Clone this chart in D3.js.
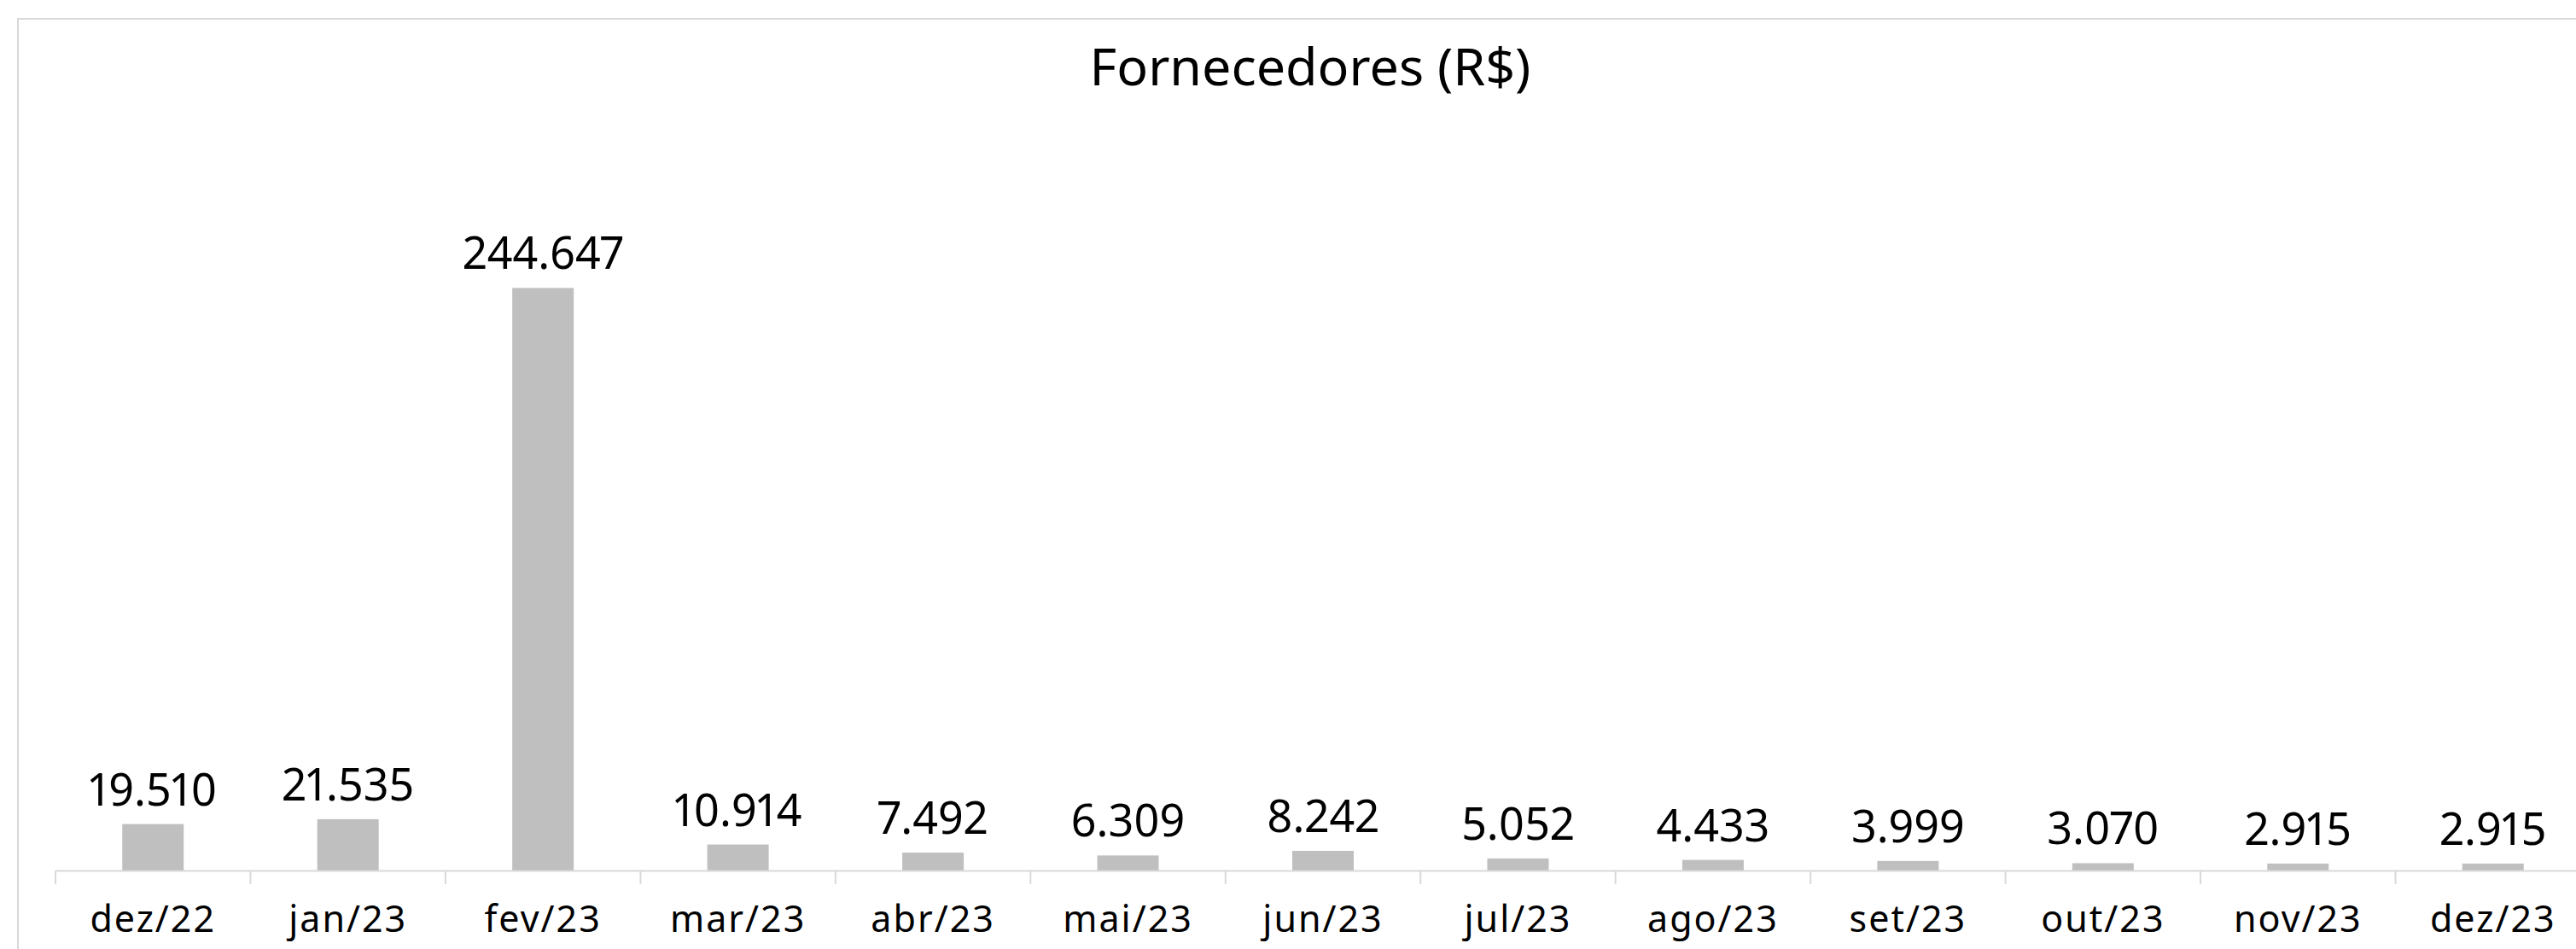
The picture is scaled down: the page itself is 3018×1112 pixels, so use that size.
<!DOCTYPE html>
<html>
<head>
<meta charset="utf-8">
<script src="https://cdnjs.cloudflare.com/ajax/libs/d3/7.8.5/d3.min.js"></script>
<style>
    html, body { margin: 0; padding: 0; background: #fff; overflow: hidden; }
    text { font-family: 'Noto Sans', sans-serif; fill: #000; }
</style>
</head>
<body>
<div class="chart"></div>
<script>
const months = ['dez/22','jan/23','fev/23','mar/23','abr/23','mai/23','jun/23','jul/23','ago/23','set/23','out/23','nov/23','dez/23'];
const fornecedores = [19510, 21535, 244647, 10914, 7492, 6309, 8242, 5052, 4433, 3999, 3070, 2915, 2915];
const yDomain = [0, 300000];
const title = 'Fornecedores (R$)';

// brazilian number format: 244.647
const ptBR = d3.formatLocale({decimal: ',', thousands: '.', grouping: [3], currency: ['R$ ', '']});
const fmt = ptBR.format(',d');

const width = 3018;
const height = 1112;
const plot = {left: 65, right: 3035, top: 183, bottom: 1020};

var svg = d3.select('.chart').append('svg')
        .attr('width', width)
        .attr('height', height)

//chart frame, runs off the right and bottom edge like in the original
svg.append('rect')
        .attr('x', 21)
        .attr('y', 22)
        .attr('width', 3060)
        .attr('height', 1200)
        .style('fill', 'none')
        .style('stroke', '#d9d9d9')
        .style('stroke-width', 2)

svg.append('text')
        .attr('x', 1535)
        .attr('y', 100)
        .attr('text-anchor', 'middle')
        .style('font-size', '61px')
        .text(title)

var xScale = d3.scaleBand()
        .domain(months)
        .range([plot.left, plot.right])
        .paddingInner(0.685)
        .paddingOuter(0.3425)

var yScale = d3.scaleLinear()
        .domain(yDomain)
        .range([plot.bottom, plot.top])

//bars
svg.selectAll('rect.bar')
        .data(fornecedores)
    .enter().append('rect')
        .attr('class', 'bar')
        .attr('x', function(d, i){ return xScale(months[i]) })
        .attr('width', xScale.bandwidth())
        .attr('y', function(d){ return yScale(d) })
        .attr('height', function(d){ return yScale(0) - yScale(d) })
        .style('fill', '#bfbfbf')

//value labels
svg.selectAll('text.value')
        .data(fornecedores)
    .enter().append('text')
        .attr('class', 'value')
        .attr('x', function(d, i){ return xScale(months[i]) + xScale.bandwidth() / 2 })
        .attr('y', function(d){ return yScale(d) - 22 })
        .attr('text-anchor', 'middle')
        .style('font-size', '52px')
        .style('font-variant-numeric', 'proportional-nums')
        .text(function(d){ return fmt(d) })

//category axis, ticks sit between the categories
var step = xScale.step();
var tickPos = d3.range(months.length + 1).map(function(i){ return plot.left + i * step });

var axis = svg.append('g').attr('class', 'x axis')

axis.append('line')
        .attr('x1', plot.left)
        .attr('x2', plot.right)
        .attr('y1', plot.bottom + 0.5)
        .attr('y2', plot.bottom + 0.5)
        .style('stroke', '#d9d9d9')
        .style('stroke-width', 2)

axis.selectAll('line.tick')
        .data(tickPos)
    .enter().append('line')
        .attr('class', 'tick')
        .attr('x1', function(d){ return d })
        .attr('x2', function(d){ return d })
        .attr('y1', plot.bottom)
        .attr('y2', plot.bottom + 16)
        .style('stroke', '#d9d9d9')
        .style('stroke-width', 2)

axis.selectAll('text')
        .data(months)
    .enter().append('text')
        .attr('x', function(d){ return xScale(d) + xScale.bandwidth() / 2 })
        .attr('y', 1092)
        .attr('text-anchor', 'middle')
        .style('font-size', '43px')
        .style('letter-spacing', '2px')
        .text(function(d){ return d })
</script>
</body>
</html>
